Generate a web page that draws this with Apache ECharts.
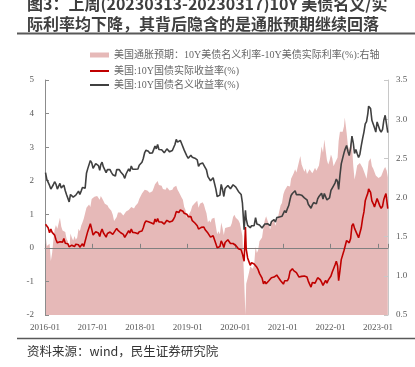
<!DOCTYPE html>
<html><head><meta charset="utf-8">
<script src="https://cdn.jsdelivr.net/npm/echarts@6/dist/echarts.min.js"></script>
<style>html,body{margin:0;padding:0;background:#fff}#c{width:415px;height:367px}</style>
</head><body><div id="c"></div>
<script>
// sample dates (3 per month)
const dates = [
'2016-01-05','2016-01-15','2016-01-25','2016-02-05','2016-02-15','2016-02-25','2016-03-05','2016-03-15','2016-03-25','2016-04-05','2016-04-15','2016-04-25',
'2016-05-05','2016-05-15','2016-05-25','2016-06-05','2016-06-15','2016-06-25','2016-07-05','2016-07-15','2016-07-25','2016-08-05','2016-08-15','2016-08-25',
'2016-09-05','2016-09-15','2016-09-25','2016-10-05','2016-10-15','2016-10-25','2016-11-05','2016-11-15','2016-11-25','2016-12-05','2016-12-15','2016-12-25',
'2017-01-05','2017-01-15','2017-01-25','2017-02-05','2017-02-15','2017-02-25','2017-03-05','2017-03-15','2017-03-25','2017-04-05','2017-04-15','2017-04-25',
'2017-05-05','2017-05-15','2017-05-25','2017-06-05','2017-06-15','2017-06-25','2017-07-05','2017-07-15','2017-07-25','2017-08-05','2017-08-15','2017-08-25',
'2017-09-05','2017-09-15','2017-09-25','2017-10-05','2017-10-15','2017-10-25','2017-11-05','2017-11-15','2017-11-25','2017-12-05','2017-12-15','2017-12-25',
'2018-01-05','2018-01-15','2018-01-25','2018-02-05','2018-02-15','2018-02-25','2018-03-05','2018-03-15','2018-03-25','2018-04-05','2018-04-15','2018-04-25',
'2018-05-05','2018-05-15','2018-05-25','2018-06-05','2018-06-15','2018-06-25','2018-07-05','2018-07-15','2018-07-25','2018-08-05','2018-08-15','2018-08-25',
'2018-09-05','2018-09-15','2018-09-25','2018-10-05','2018-10-15','2018-10-25','2018-11-05','2018-11-15','2018-11-25','2018-12-05','2018-12-15','2018-12-25',
'2019-01-05','2019-01-15','2019-01-25','2019-02-05','2019-02-15','2019-02-25','2019-03-05','2019-03-15','2019-03-25','2019-04-05','2019-04-15','2019-04-25',
'2019-05-05','2019-05-15','2019-05-25','2019-06-05','2019-06-15','2019-06-25','2019-07-05','2019-07-15','2019-07-25','2019-08-05','2019-08-15','2019-08-25',
'2019-09-05','2019-09-15','2019-09-25','2019-10-05','2019-10-15','2019-10-25','2019-11-05','2019-11-15','2019-11-25','2019-12-05','2019-12-15','2019-12-25',
'2020-01-05','2020-01-15','2020-01-25','2020-02-05','2020-02-15','2020-02-25','2020-03-09','2020-03-19','2020-03-25','2020-04-05','2020-04-15','2020-04-25',
'2020-05-05','2020-05-15','2020-05-25','2020-06-05','2020-06-15','2020-06-25','2020-07-05','2020-07-15','2020-07-25','2020-08-05','2020-08-15','2020-08-25',
'2020-09-05','2020-09-15','2020-09-25','2020-10-05','2020-10-15','2020-10-25','2020-11-05','2020-11-15','2020-11-25','2020-12-05','2020-12-15','2020-12-25',
'2021-01-05','2021-01-15','2021-01-25','2021-02-05','2021-02-15','2021-02-25','2021-03-05','2021-03-15','2021-03-25','2021-04-05','2021-04-15','2021-04-25',
'2021-05-05','2021-05-15','2021-05-25','2021-06-05','2021-06-15','2021-06-25','2021-07-05','2021-07-15','2021-07-25','2021-08-05','2021-08-15','2021-08-25',
'2021-09-05','2021-09-15','2021-09-25','2021-10-05','2021-10-15','2021-10-25','2021-11-05','2021-11-15','2021-11-25','2021-12-05','2021-12-15','2021-12-25',
'2022-01-05','2022-01-15','2022-01-25','2022-02-05','2022-02-15','2022-02-25','2022-03-05','2022-03-15','2022-03-25','2022-04-05','2022-04-15','2022-04-21',
'2022-05-05','2022-05-15','2022-05-25','2022-06-05','2022-06-15','2022-06-25','2022-07-05','2022-07-15','2022-07-25','2022-08-05','2022-08-15','2022-08-25',
'2022-09-05','2022-09-15','2022-09-25','2022-10-05','2022-10-15','2022-10-21','2022-11-05','2022-11-15','2022-11-25','2022-12-05','2022-12-15','2022-12-25',
'2023-01-05','2023-01-15','2023-01-25','2023-02-05','2023-02-15','2023-02-25','2023-03-03','2023-03-09','2023-03-17'
];
// 美国:10Y国债名义收益率(%)
const nominal = [
2.24,2.04,2.00, 1.86,1.75,1.75, 1.88,1.97,1.90, 1.75,1.77,1.92, 1.78,1.75,1.87, 1.70,1.58,1.56, 1.37,1.59,1.57, 1.51,1.55,1.57, 1.60,1.69,1.59, 1.69,1.80,1.77, 1.78,2.22,2.36, 2.39,2.60,2.54,
2.37,2.40,2.51, 2.47,2.45,2.31, 2.48,2.55,2.41, 2.36,2.24,2.33, 2.35,2.33,2.25, 2.18,2.16,2.14, 2.33,2.33,2.33, 2.26,2.27,2.17, 2.07,2.20,2.22, 2.35,2.28,2.44, 2.34,2.33,2.34, 2.36,2.35,2.46,
2.47,2.55,2.66, 2.84,2.91,2.87, 2.88,2.82,2.82, 2.83,2.83,3.03, 2.95,3.08,2.93, 2.94,2.92,2.87, 2.83,2.83,2.95, 2.95,2.86,2.82, 2.90,2.99,3.08, 3.23,3.15,3.12, 3.20,3.11,3.06, 2.91,2.89,2.74,
2.67,2.71,2.76, 2.70,2.66,2.67, 2.72,2.62,2.43, 2.50,2.55,2.53, 2.53,2.39,2.32, 2.12,2.09,2.00, 2.04,2.09,2.08, 1.75,1.53,1.54, 1.57,1.89,1.74, 1.53,1.77,1.80, 1.86,1.84,1.76, 1.80,1.88,1.90,
1.81,1.79,1.68, 1.65,1.59,1.33, 0.54,1.12,0.86, 0.67,0.63,0.60, 0.66,0.64,0.66, 0.90,0.71,0.68, 0.68,0.63,0.59, 0.55,0.71,0.69, 0.72,0.68,0.66, 0.78,0.74,0.84, 0.77,0.90,0.88, 0.92,0.92,0.94,
0.96,1.11,1.05, 1.17,1.26,1.44, 1.56,1.62,1.63, 1.70,1.58,1.57, 1.59,1.64,1.57, 1.56,1.49,1.52, 1.43,1.30,1.28, 1.18,1.28,1.35, 1.33,1.31,1.46, 1.53,1.57,1.63, 1.45,1.62,1.64, 1.43,1.46,1.49,
1.71,1.78,1.78, 1.93,2.05,1.97, 1.74,2.16,2.50, 2.54,2.83,2.91, 3.05,2.88,2.75, 2.98,3.33,3.13, 2.81,2.93,2.81, 2.69,2.79,3.03, 3.26,3.45,3.69, 3.76,4.00,4.22, 4.15,3.80,3.69, 3.58,3.45,3.75,
3.72,3.51,3.45, 3.53,3.81,3.95, 4.00,3.93,3.43
];
// 美国:10Y国债实际收益率(%)
const real = [
0.70,0.66,0.60, 0.45,0.56,0.46, 0.43,0.38,0.25, 0.15,0.15,0.18, 0.15,0.17,0.28, 0.14,0.11,0.12, 0.03,0.05,0.08, 0.06,0.04,0.11, 0.11,0.09,0.02, 0.05,0.12,0.04, 0.06,0.35,0.49, 0.48,0.72,0.56,
0.38,0.39,0.48, 0.45,0.44,0.34, 0.46,0.56,0.45, 0.44,0.32,0.43, 0.48,0.47,0.42, 0.40,0.46,0.42, 0.58,0.52,0.50, 0.45,0.47,0.40, 0.31,0.38,0.38, 0.51,0.44,0.56, 0.46,0.47,0.45, 0.45,0.42,0.48,
0.48,0.50,0.60, 0.74,0.80,0.78, 0.78,0.76,0.75, 0.75,0.71,0.86, 0.77,0.87,0.77, 0.79,0.77,0.76, 0.71,0.73,0.82, 0.83,0.77,0.75, 0.80,0.86,0.94, 1.08,1.05,1.05, 1.13,1.11,1.09, 1.03,1.05,1.00,
0.93,0.91,0.93, 0.81,0.77,0.74, 0.77,0.66,0.56, 0.58,0.61,0.59, 0.62,0.54,0.52, 0.44,0.38,0.32, 0.31,0.36,0.34, 0.12,0.00,-0.03, 0.04,0.21,0.13, 0.01,0.16,0.20, 0.24,0.23,0.13, 0.13,0.13,0.12,
0.07,0.06,-0.03, -0.02,-0.06,-0.18, -0.40,0.62,-0.04, -0.30,-0.41,-0.52, -0.44,-0.45,-0.48, -0.47,-0.58,-0.65, -0.76,-0.80,-0.90, -1.07,-1.00,-1.07, -1.04,-0.98,-0.93, -0.89,-0.93,-0.87, -0.87,-0.81,-0.87, -0.91,-0.98,-0.99,
-1.08,-0.98,-1.02, -0.98,-0.90,-0.70, -0.68,-0.62,-0.68, -0.66,-0.74,-0.77, -0.87,-0.89,-0.85, -0.85,-0.84,-0.85, -0.87,-0.99,-1.08, -1.17,-1.03,-0.99, -1.05,-1.03,-0.89, -0.88,-0.95,-1.02, -1.12,-1.12,-0.97, -1.05,-0.96,-0.98,
-0.84,-0.72,-0.62, -0.51,-0.40,-0.54, -0.98,-0.68,-0.35, -0.30,-0.08,-0.11, 0.22,0.22,0.15, 0.28,0.66,0.72, 0.58,0.62,0.40, 0.30,0.35,0.59, 0.88,1.07,1.40, 1.52,1.63,1.76, 1.65,1.40,1.32, 1.22,1.17,1.47,
1.47,1.25,1.18, 1.24,1.45,1.56, 1.62,1.59,1.17
];
// 美国通胀预期(右轴)
const breakeven = [
1.54,1.38,1.40, 1.41,1.19,1.29, 1.45,1.59,1.65, 1.60,1.62,1.74, 1.63,1.58,1.59, 1.56,1.47,1.44, 1.34,1.54,1.49, 1.45,1.51,1.46, 1.49,1.60,1.57, 1.64,1.68,1.73, 1.72,1.87,1.87, 1.91,1.88,1.98,
1.99,2.01,2.03, 2.02,2.01,1.97, 2.02,1.99,1.96, 1.92,1.92,1.90, 1.87,1.86,1.83, 1.78,1.70,1.72, 1.75,1.81,1.83, 1.81,1.80,1.77, 1.76,1.82,1.84, 1.84,1.84,1.88, 1.88,1.86,1.89, 1.91,1.93,1.98,
1.99,2.05,2.06, 2.10,2.11,2.09, 2.10,2.06,2.07, 2.08,2.12,2.17, 2.18,2.21,2.16, 2.15,2.15,2.11, 2.12,2.10,2.13, 2.12,2.09,2.07, 2.10,2.13,2.14, 2.15,2.10,2.07, 2.07,2.00,1.97, 1.88,1.84,1.74,
1.74,1.80,1.83, 1.89,1.89,1.93, 1.95,1.96,1.87, 1.92,1.94,1.94, 1.91,1.85,1.80, 1.68,1.71,1.68, 1.73,1.73,1.74, 1.63,1.53,1.57, 1.53,1.68,1.61, 1.52,1.61,1.60, 1.62,1.61,1.63, 1.67,1.75,1.78,
1.74,1.73,1.71, 1.67,1.65,1.51, 0.94,0.50,0.90, 0.97,1.04,1.12, 1.10,1.09,1.14, 1.37,1.29,1.33, 1.44,1.43,1.49, 1.62,1.71,1.76, 1.76,1.66,1.59, 1.67,1.67,1.71, 1.64,1.71,1.75, 1.83,1.90,1.93,
2.04,2.09,2.07, 2.15,2.16,2.14, 2.24,2.24,2.31, 2.36,2.32,2.34, 2.46,2.53,2.42, 2.41,2.33,2.37, 2.30,2.29,2.36, 2.35,2.31,2.34, 2.38,2.34,2.35, 2.41,2.52,2.65, 2.57,2.74,2.61, 2.48,2.42,2.47,
2.55,2.50,2.40, 2.44,2.45,2.51, 2.72,2.84,2.85, 2.84,2.91,3.02, 2.83,2.66,2.60, 2.70,2.67,2.41, 2.23,2.31,2.41, 2.39,2.44,2.44, 2.38,2.38,2.29, 2.24,2.37,2.46, 2.50,2.40,2.37, 2.36,2.28,2.28,
2.25,2.26,2.27, 2.29,2.36,2.39, 2.38,2.34,2.26
];
const xTickLabels = ['2016-01','2017-01','2018-01','2019-01','2020-01','2021-01','2022-01','2023-01'];
const seriesNames = [
  '美国通胀预期：10Y美债名义利率-10Y美债实际利率(%):右轴',
  '美国:10Y国债实际收益率(%)',
  '美国:10Y国债名义收益率(%)'
];
const titleLines = ['图3：上周(20230313-20230317)10Y 美债名义/实','际利率均下降，其背后隐含的是通胀预期继续回落'];
const sourceText = '资料来源：wind，民生证券研究院';

function toYear(s){
  const p = s.split('-').map(Number);
  const a = Date.UTC(p[0],0,1), b = Date.UTC(p[0]+1,0,1);
  return p[0] + (Date.UTC(p[0],p[1]-1,p[2]) - a) / (b - a);
}
const xs = dates.map(toYear);
const pair = arr => arr.map((v,i)=>[xs[i], v]);

const PINK = '#E6B9B8', RED = '#C00000', DARK = '#404040';
const SERIF = '"Times New Roman","Liberation Serif","Noto Sans CJK SC",serif';
const SANS = '"Noto Sans CJK SC","Noto Sans",sans-serif';
const legendText = {fontSize:10, color:'#666', fontFamily:SERIF};

const chart = echarts.init(document.getElementById('c'), null, {renderer:'canvas'});
chart.setOption({
  animation:false,
  backgroundColor:'#fff',
  grid:{left:45, right:27, top:80, bottom:52, containLabel:false},
  legend:[
    {orient:'vertical', left:85, top:45, itemWidth:19, itemHeight:5, itemGap:4, textStyle:legendText,
     data:[{name:seriesNames[0], icon:'rect', itemStyle:{color:PINK}}]},
    {orient:'vertical', left:85, top:61, itemWidth:19, itemHeight:2, itemGap:4, textStyle:legendText,
     data:[{name:seriesNames[1], icon:'rect', itemStyle:{color:RED}},
           {name:seriesNames[2], icon:'rect', itemStyle:{color:DARK}}]}
  ],
  xAxis:[
    {type:'value', min:2016, max:2023.21, interval:1, position:'bottom',
     axisLine:{show:false, onZero:false}, axisTick:{show:false}, splitLine:{show:false},
     axisLabel:{fontSize:9, color:'#595959', fontFamily:SERIF, margin:8, showMaxLabel:false,
       formatter:v => Number.isInteger(Math.round(v*1000)/1000) ? xTickLabels[Math.round(v-2016)] : ''}},
    {type:'value', min:2016, max:2023.21, interval:1, position:'bottom', z:2,
     axisLine:{show:true, onZero:true, onZeroAxisIndex:0, lineStyle:{color:'#808080', width:1}},
     axisTick:{show:true, inside:true, length:4, lineStyle:{color:'#808080'}},
     axisLabel:{show:false}, splitLine:{show:false}}
  ],
  yAxis:[
    {type:'value', min:-2, max:5, interval:1, position:'left', z:2,
     axisLine:{show:true, onZero:false, lineStyle:{color:'#8c8c8c'}},
     axisTick:{show:true, inside:true, length:4, lineStyle:{color:'#8c8c8c'}},
     axisLabel:{fontSize:9, color:'#595959', fontFamily:SERIF, margin:11},
     splitLine:{show:false}},
    {type:'value', min:0.5, max:3.5, interval:0.5, position:'right', z:2,
     axisLine:{show:true, onZero:false, lineStyle:{color:'#c8c8c8'}},
     axisTick:{show:true, inside:true, length:4, lineStyle:{color:'#c8c8c8'}},
     axisLabel:{fontSize:9, color:'#595959', fontFamily:SERIF, margin:8, formatter:v=>v.toFixed(1)},
     splitLine:{show:false}}
  ],
  series:[
    {name:seriesNames[0], type:'line', xAxisIndex:0, yAxisIndex:1, data:pair(breakeven),
     symbol:'none', lineStyle:{width:0, color:PINK}, itemStyle:{color:PINK},
     areaStyle:{color:PINK, opacity:1, origin:'start'}, z:1, silent:true},
    {name:seriesNames[1], type:'line', xAxisIndex:0, yAxisIndex:0, data:pair(real),
     symbol:'none', color:RED, lineStyle:{width:1.6, color:RED}, z:3},
    {name:seriesNames[2], type:'line', xAxisIndex:0, yAxisIndex:0, data:pair(nominal),
     symbol:'none', color:DARK, lineStyle:{width:1.6, color:DARK}, z:3}
  ],
  graphic:[
    {type:'text', x:27, y:4, z:10, style:{text:titleLines[0], font:'bold 16px '+SANS, fill:'#3f3f3f', verticalAlign:'middle'}},
    {type:'text', x:27, y:24, z:10, style:{text:titleLines[1], font:'bold 16px '+SANS, fill:'#3f3f3f', verticalAlign:'middle'}},
    {type:'line', z:10, shape:{x1:17, y1:33.5, x2:415, y2:33.5}, style:{stroke:'#595959', lineWidth:2}},
    {type:'line', z:10, shape:{x1:17, y1:338.5, x2:415, y2:338.5}, style:{stroke:'#595959', lineWidth:1.5}},
    {type:'text', x:27, y:351, z:10, style:{text:sourceText, font:'12.5px '+SANS, fill:'#333', verticalAlign:'middle'}}
  ]
});
</script></body></html>
